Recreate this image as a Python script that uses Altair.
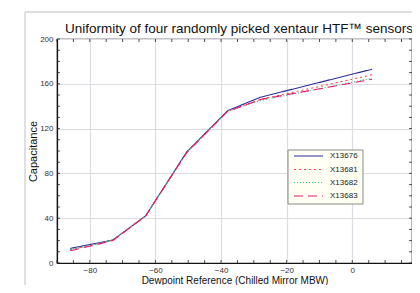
import altair as alt
import pandas as pd

dewpoint = [-86, -80, -73, -63, -50.5, -38, -28, 6]
x13676 = [13, 16.5, 20.5, 42, 99, 136, 148, 173]
x13681 = [12, 15.5, 20.5, 42, 98.5, 135.5, 146, 168]
x13682 = [12, 15.5, 20.5, 42, 98.5, 135.5, 145, 165]
x13683 = [11, 15, 20, 42, 98.5, 135.5, 146, 164]
series = ["X13676", "X13681", "X13682", "X13683"]
colors = ["#2e2e9e", "#ff4a4a", "#2cc47c", "#e8186e"]
dashes = [[1, 0], [2, 3], [1, 2], [9, 5]]
x_ticks = [-80, -60, -40, -20, 0, 20]
y_ticks = [0, 40, 80, 120, 160, 200]
title_text = "Uniformity of four randomly picked xentaur HTF™ sensors"

rows = []
for name, vals in zip(series, [x13676, x13681, x13682, x13683]):
    for d, v in zip(dewpoint, vals):
        rows.append({"dew": d, "cap": v, "sensor": name})
df = pd.DataFrame(rows)

W, H = 355, 224
xs = alt.Scale(domain=[-90, 18.2], nice=False)
ys = alt.Scale(domain=[0, 200], nice=False)
FONT = "Liberation Sans"

lines = alt.Chart(df).mark_line(strokeWidth=1.1, clip=True).encode(
    x=alt.X("dew:Q", scale=xs, title="Dewpoint Reference (Chilled Mirror MBW)",
            axis=alt.Axis(values=x_ticks, grid=True, ticks=False, labelPadding=3,
                          labelFlush=False, titleBaseline="bottom", titleY=22,
                          titleFontSize=10)),
    y=alt.Y("cap:Q", scale=ys, title="Capacitance",
            axis=alt.Axis(values=y_ticks, grid=True, ticks=False, labelPadding=4,
                          titlePadding=1, titleFontSize=11)),
    color=alt.Color("sensor:N", scale=alt.Scale(domain=series, range=colors), legend=None),
    strokeDash=alt.StrokeDash("sensor:N", scale=alt.Scale(domain=series, range=dashes),
                              legend=None),
)

xminor = pd.DataFrame({"t": list(range(-90, 19, 5))})
yminor = pd.DataFrame({"t": list(range(0, 201, 10))})
tick_col = "#222222"
xb = alt.Chart(xminor).mark_rule(color=tick_col, strokeWidth=0.8).encode(
    x=alt.X("t:Q", scale=xs), y=alt.value(H), y2=alt.value(H - 3))
xt = alt.Chart(xminor).mark_rule(color=tick_col, strokeWidth=0.8).encode(
    x=alt.X("t:Q", scale=xs), y=alt.value(0), y2=alt.value(3))
yl = alt.Chart(yminor).mark_rule(color=tick_col, strokeWidth=0.8).encode(
    y=alt.Y("t:Q", scale=ys), x=alt.value(0), x2=alt.value(3))
yr = alt.Chart(yminor).mark_rule(color=tick_col, strokeWidth=0.8).encode(
    y=alt.Y("t:Q", scale=ys), x=alt.value(W), x2=alt.value(W - 3))

one = pd.DataFrame({"a": [0]})
frame_v = alt.Chart(one).mark_rule(color="#d4d4d4", strokeWidth=1.5).encode(
    x=alt.value(-32), y=alt.value(-27), y2=alt.value(262))
frame_h = alt.Chart(one).mark_rule(color="#d4d4d4", strokeWidth=1.5).encode(
    x=alt.value(-32), x2=alt.value(400), y=alt.value(-27))

title = alt.Chart(pd.DataFrame({"t": [title_text]})).mark_text(
    font=FONT, fontSize=13.5, color="#111111", align="center", baseline="middle").encode(
    text="t:N", x=alt.value(182), y=alt.value(-10))

# legend
leg_box = alt.Chart(one).mark_rect(fill="#fffff4", stroke="#8a8a8a", strokeWidth=1).encode(
    x=alt.value(231), x2=alt.value(306), y=alt.value(111), y2=alt.value(165))
leg_layers = [leg_box]
leg_rows = [117, 130.5, 143.5, 157]
for name, col, dash, yy in zip(series, colors, dashes, leg_rows):
    d = pd.DataFrame({"sensor": [name]})
    leg_layers.append(alt.Chart(d).mark_rule(color=col, strokeDash=dash, strokeWidth=1.1).encode(
        x=alt.value(237), x2=alt.value(266), y=alt.value(yy)))
    leg_layers.append(alt.Chart(d).mark_text(font=FONT, fontSize=8, color="#222222",
                                             align="left", baseline="middle").encode(
        text="sensor:N", x=alt.value(273), y=alt.value(yy)))

chart = alt.layer(frame_v, frame_h, lines, xb, xt, yl, yr, title, *leg_layers).properties(
    width=W, height=H,
    autosize=alt.AutoSizeParams(type="none"),
    padding={"left": 49, "top": 31, "right": 0, "bottom": 22},
).configure_view(stroke="#111111", strokeWidth=1.2).configure_axis(
    labelFont=FONT, titleFont=FONT, labelFontSize=8,
    titleFontWeight="normal", labelColor="#333333", titleColor="#111111",
    gridColor="#dcdce2", gridWidth=1.2, domainColor="#111111", domainWidth=1.2,
)

chart.save("out.html", embed_options={"renderer": "svg", "actions": False})
